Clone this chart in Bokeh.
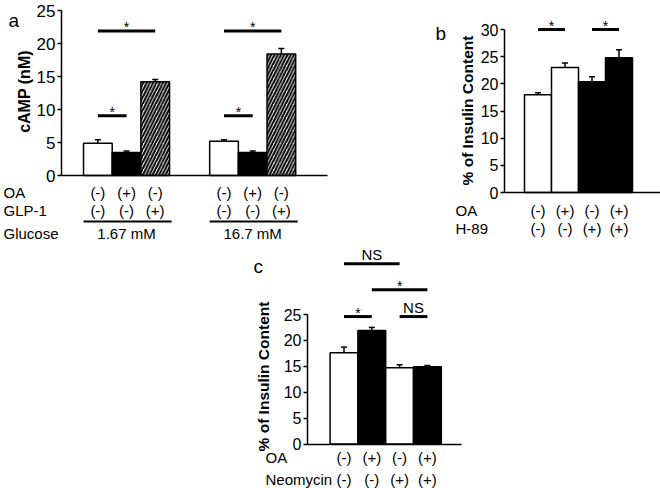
import numpy as np
from bokeh.plotting import figure
from bokeh.models import Range1d, FixedTicker, Spacer
from bokeh.layouts import column, row
from bokeh.core.properties import value
from bokeh.embed import file_html
from bokeh.resources import INLINE

# ---------------- data ----------------
# panel a : cAMP
a_groups = ["1.67 mM", "16.7 mM"]
a_oa = ["(-)", "(+)", "(-)", "(-)", "(+)", "(-)"]
a_glp1 = ["(-)", "(-)", "(+)", "(-)", "(-)", "(+)"]
a_mean = [4.9, 3.5, 14.2, 5.2, 3.5, 18.4]
a_err = [0.5, 0.2, 0.35, 0.2, 0.2, 0.85]
a_kind = ["open", "solid", "hatch", "open", "solid", "hatch"]
a_sig_from = [0, 0, 3, 3]
a_sig_to = [1, 2, 4, 5]
a_sig_y = [9.05, 21.9, 9.05, 21.9]
a_sig_text = ["*", "*", "*", "*"]
a_yticks = [0, 5, 10, 15, 20, 25]

# panel b : insulin, H-89
b_oa = ["(-)", "(+)", "(-)", "(+)"]
b_h89 = ["(-)", "(-)", "(+)", "(+)"]
b_mean = [18.0, 23.0, 20.4, 24.8]
b_err = [0.35, 0.85, 0.9, 1.5]
b_kind = ["open", "open", "solid", "solid"]
b_sig_from = [0, 2]
b_sig_to = [1, 3]
b_sig_y = [30.0, 30.0]
b_sig_text = ["*", "*"]
b_yticks = [0, 5, 10, 15, 20, 25, 30]

# panel c : insulin, Neomycin
c_oa = ["(-)", "(+)", "(-)", "(+)"]
c_neo = ["(-)", "(-)", "(+)", "(+)"]
c_mean = [17.6, 21.9, 14.7, 14.9]
c_err = [1.1, 0.6, 0.6, 0.25]
c_kind = ["open", "solid", "open", "solid"]
c_sig_from = [0, 2, 1, 0]
c_sig_to = [1, 3, 3, 2]
c_sig_y = [24.6, 24.6, 29.8, 34.8]
c_sig_text = ["*", "NS", "*", "NS"]
c_yticks = [0, 5, 10, 15, 20, 25]

# ---------------- layout helpers ----------------
FONT = value("Liberation Sans")
FILL = {"open": "white", "solid": "black", "hatch": "white"}
HATCH = {"open": " ", "solid": " ", "hatch": "/"}


class Panel:
    """Maps page pixel positions (used only for layout of texts/axes) to data units."""

    def __init__(self, x0, y0, w, h, rx0, ux, ry0, uy):
        self.x0, self.y0, self.w, self.h = x0, y0, w, h
        self.rx0, self.ux, self.ry0, self.uy = rx0, ux, ry0, uy

    def dx(self, rx):
        return (rx - self.rx0) / self.ux

    def dy(self, ry):
        return (self.ry0 - ry) / self.uy

    def fig(self):
        xr = Range1d(self.dx(self.x0), self.dx(self.x0 + self.w))
        yr = Range1d(self.dy(self.y0 + self.h), self.dy(self.y0))
        p = figure(width=self.w, height=self.h, x_range=xr, y_range=yr,
                   output_backend="svg", toolbar_location=None, min_border=0,
                   background_fill_color="white", border_fill_color="white")
        p.grid.visible = False
        p.outline_line_color = None
        return p


def txt(p, x, y, t, size, align="center", baseline="middle", bold=False, angle=0.0, yoff=0):
    p.text(x=x, y=y, text=t, text_font=FONT, text_font_size=value(size),
           text_align=align, text_baseline=baseline, text_color="black",
           text_font_style="bold" if bold else "normal", angle=angle, y_offset=yoff)


def draw_panel(pn, xs, mean, err, kind, yticks, ymax, axis_rx, xend_rx, tick_size,
               sig_from, sig_to, sig_y, sig_text):
    p = pn.fig()
    ya = p.yaxis[0]
    ya.fixed_location = pn.dx(axis_rx)
    ya.bounds = (0, ymax)
    ya.ticker = FixedTicker(ticks=yticks)
    ya.minor_tick_line_color = None
    ya.major_tick_in = 0
    ya.major_tick_out = 4
    ya.major_tick_line_width = 1.5
    ya.axis_line_width = 1.5
    ya.major_label_standoff = 2
    ya.major_label_text_font = "Liberation Sans"
    ya.major_label_text_font_size = tick_size
    ya.major_label_text_color = "black"
    xa = p.xaxis[0]
    xa.fixed_location = 0
    xend = p.x_range.end if xend_rx is None else pn.dx(xend_rx)
    xa.bounds = (pn.dx(axis_rx), xend)
    xa.ticker = FixedTicker(ticks=[])
    xa.major_tick_line_color = None
    xa.minor_tick_line_color = None
    xa.major_label_text_font_size = "0px"
    xa.axis_line_width = 1.5

    tops = [m + e for m, e in zip(mean, err)]
    p.vbar(x=xs, top=mean, bottom=0, width=1.0,
           fill_color=[FILL[k] for k in kind], line_color="black", line_width=1.5,
           hatch_pattern=[HATCH[k] for k in kind], hatch_color="black",
           hatch_scale=6.5, hatch_weight=2.0)
    cap = 3.0 / pn.ux
    p.segment(x0=xs, y0=mean, x1=xs, y1=tops, line_color="black", line_width=1.5)
    p.segment(x0=[x - cap for x in xs], y0=tops, x1=[x + cap for x in xs], y1=tops,
              line_color="black", line_width=1.5)

    x0s = [xs[i] for i in sig_from]
    x1s = [xs[j] for j in sig_to]
    p.segment(x0=x0s, y0=sig_y, x1=x1s, y1=sig_y, line_color="black", line_width=3)
    mids = [(a + b) / 2 for a, b in zip(x0s, x1s)]
    star_i = [k for k, t in enumerate(sig_text) if t == "*"]
    ns_i = [k for k, t in enumerate(sig_text) if t != "*"]
    if star_i:
        txt(p, [mids[k] for k in star_i], [sig_y[k] for k in star_i],
            [sig_text[k] for k in star_i], "14px", baseline="alphabetic", yoff=-4)
    if ns_i:
        txt(p, [mids[k] for k in ns_i], [sig_y[k] for k in ns_i],
            [sig_text[k] for k in ns_i], "15px", baseline="alphabetic", yoff=-9)
    return p


# ---------------- panel a ----------------
PA = Panel(0, 0, 380, 243, 68.7, 28.67, 175.0, 6.6)
a_x = [1 + i + (i // 3) * 1.4 for i in range(len(a_mean))]
pa = draw_panel(PA, a_x, a_mean, a_err, a_kind, a_yticks, 25, 61, 327, "17px",
                a_sig_from, a_sig_to, a_sig_y, a_sig_text)
txt(pa, [PA.dx(8)], [PA.dy(20)], ["a"], "19px", align="left", baseline="alphabetic")
txt(pa, [PA.dx(24)], [PA.dy(91)], ["cAMP (nM)"], "16px", bold=True, angle=np.pi / 2)
txt(pa, [PA.dx(3)] * 3, [PA.dy(191.5), PA.dy(209.5), PA.dy(232.5)],
    ["OA", "GLP-1", "Glucose"], "15px", align="left")
txt(pa, a_x, [PA.dy(191.5)] * len(a_x), a_oa, "15px")
txt(pa, a_x, [PA.dy(209.5)] * len(a_x), a_glp1, "15px")
g_lo = [a_x[3 * g] - 0.5 for g in range(len(a_groups))]
g_hi = [a_x[3 * g + 2] + 0.5 + 2.0 / PA.ux for g in range(len(a_groups))]
pa.segment(x0=g_lo, y0=[PA.dy(221)] * 2, x1=g_hi, y1=[PA.dy(221)] * 2,
           line_color="black", line_width=2)
txt(pa, [a_x[3 * g + 1] for g in range(len(a_groups))], [PA.dy(232.5)] * 2, a_groups, "15px")

# ---------------- panel b ----------------
PB = Panel(380, 0, 280, 243, 510.5, 27.0, 192.0, 5.43)
b_x = [1 + i for i in range(len(b_mean))]
pb = draw_panel(PB, b_x, b_mean, b_err, b_kind, b_yticks, 30, 504, None, "16px",
                b_sig_from, b_sig_to, b_sig_y, b_sig_text)
txt(pb, [PB.dx(435)], [PB.dy(33)], ["b"], "19px", align="left", baseline="alphabetic")
txt(pb, [PB.dx(467)], [PB.dy(110)], ["% of Insulin Content"], "15.5px", bold=True, angle=np.pi / 2)
txt(pb, [PB.dx(455)] * 2, [PB.dy(210), PB.dy(227.5)], ["OA", "H-89"], "15px", align="left")
txt(pb, b_x, [PB.dy(210)] * len(b_x), b_oa, "15px")
txt(pb, b_x, [PB.dy(227.5)] * len(b_x), b_h89, "15px")

# ---------------- panel c ----------------
PC = Panel(225, 243, 260, 245, 315.7, 27.8, 443.5, 5.18)
c_x = [1 + i for i in range(len(c_mean))]
pc = draw_panel(PC, c_x, c_mean, c_err, c_kind, c_yticks, 25, 307, 461, "16px",
                c_sig_from, c_sig_to, c_sig_y, c_sig_text)
txt(pc, [PC.dx(253)], [PC.dy(266)], ["c"], "19px", align="left", baseline="alphabetic")
txt(pc, [PC.dx(263)], [PC.dy(376)], ["% of Insulin Content"], "15.5px", bold=True, angle=np.pi / 2)
txt(pc, [PC.dx(265)] * 2, [PC.dy(457), PC.dy(479)], ["OA", "Neomycin"], "15px", align="left")
txt(pc, c_x, [PC.dy(457)] * len(c_x), c_oa, "15px")
txt(pc, c_x, [PC.dy(479)] * len(c_x), c_neo, "15px")

layout = column(row(pa, pb), row(Spacer(width=225, height=245), pc))
open("out.html", "w").write(file_html(layout, INLINE))
